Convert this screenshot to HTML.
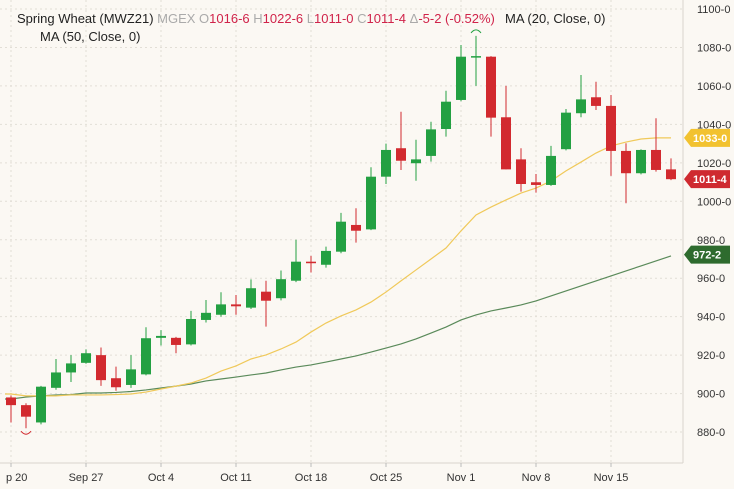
<!DOCTYPE html>
<html><head><meta charset="utf-8"><style>
body{margin:0;background:#fbf8f3;}
svg{display:block;font-family:"Liberation Sans",sans-serif;}
</style></head><body>
<svg id="chart" width="734" height="489" viewBox="0 0 734 489" xmlns="http://www.w3.org/2000/svg">
<rect x="0" y="0" width="734" height="489" fill="#fbf8f3"/>
<g id="grid"></g>
<g id="ma50"></g>
<g id="ma20"></g>
<g id="candles"></g>
<line x1="683" y1="0" x2="683" y2="463" stroke="#d8d4cc"/>
<line x1="0" y1="463" x2="683" y2="463" stroke="#d8d4cc"/>
<g id="yticks"></g>
<g id="xticks"></g>
<g id="tags"></g>
<text x="17" y="23" font-size="13"><tspan fill="#222">Spring Wheat (MWZ21)</tspan><tspan fill="#aaa"> MGEX  O</tspan><tspan fill="#d0234a">1016-6</tspan><tspan fill="#aaa"> H</tspan><tspan fill="#d0234a">1022-6</tspan><tspan fill="#aaa"> L</tspan><tspan fill="#d0234a">1011-0</tspan><tspan fill="#aaa"> C</tspan><tspan fill="#d0234a">1011-4</tspan><tspan fill="#aaa"> Δ</tspan><tspan fill="#d0234a">-5-2 (-0.52%)</tspan></text>
<text x="505" y="23" font-size="13" fill="#222">MA (20, Close, 0)</text>
<text x="40" y="41" font-size="13" fill="#222">MA (50, Close, 0)</text>
</svg>
<script>
const opens=[898,894,885,903,911,916,920,908,904.5,910,929,929,925.6,938.3,941,946.4,944.7,953,949.6,958.7,968.6,967,973.8,987.7,985.4,1012.8,1027.6,1019.8,1023.6,1037.6,1052.7,1075,1075.2,1043.7,1021.8,1009.9,1008.5,1027.1,1045.8,1054.1,1049.6,1026.2,1014.6,1026.7,1016.6];
const highs=[899,895,904,918,920,923,924,914,920,934.5,933,929.5,943,948.7,952.7,951.3,959.4,958.7,964,980,971.6,976.4,994,996.4,1017.7,1030,1046.6,1032,1041.4,1057.5,1081.3,1086,1075.5,1060,1027.6,1014.2,1028.8,1048,1065.7,1062.2,1055.3,1030.2,1027,1043.2,1022.3];
const lows=[885,882,884,902,906,915.5,904,901.5,903,909.5,925,921,925,937,940,941,944,934.8,948.5,958,963,965.5,973,978.5,985,1009,1016.3,1010.7,1020.6,1033.6,1052,1060,1033.6,1016.6,1005,1004.5,1008,1026.5,1043.7,1047.5,1013.2,999,1014,1015.4,1011];
const closes=[894,888,903.6,911,915.7,921,907,903.3,912.6,928.8,930,925.3,938.8,942,946.4,945.4,954.8,948.3,959.5,968.6,967.8,974.2,989.4,984.7,1012.8,1026.7,1021.1,1021.8,1037.4,1051.8,1075.2,1075.5,1043.5,1016.6,1009,1008.5,1023.6,1046.1,1053,1049.6,1026.2,1014.6,1026.7,1016.3,1011.5];
const ma20=[899.8,898.8,898.8,898.8,899.3,899.3,899.3,899.5,899.8,900.8,902.4,903.9,905.5,908.1,911.7,914.4,918,920.1,923.2,926.8,932,936.7,940.4,943.5,947.6,952.8,958.6,964.3,970,975.7,984.6,992.9,997,1000.7,1004.3,1006.9,1010.6,1015.8,1020.4,1025.1,1028.8,1030.8,1032.4,1033,1033];
const ma50=[897.2,898.2,898.8,899.3,899.5,900.3,900.3,900.6,901.1,901.9,902.9,903.9,905,906.6,907.6,908.6,909.7,910.7,912.3,913.8,914.9,916.4,918,919.6,921.6,923.7,925.8,928.4,931.5,934.6,938.3,940.9,943,944.5,946.1,948.2,950.8,953.4,956,958.6,961.2,963.8,966.4,969,971.6];
const yTickVals=[880,900,920,940,960,980,1000,1020,1040,1060,1080,1100];
const yTickLabels=["880-0","900-0","920-0","940-0","960-0","980-0","1000-0","1020-0","1040-0","1060-0","1080-0","1100-0"];
const xTickIdx=[0,5,10,15,20,25,30,35,40];
const xTickLabels=["p 20","Sep 27","Oct 4","Oct 11","Oct 18","Oct 25","Nov 1","Nov 8","Nov 15"];
const tagVals=[1033,1011.5,972.25];
const tagLabels=["1033-0","1011-4","972-2"];
const tagColors=["#f2c230","#cf2a30","#2e6b2e"];

const NS="http://www.w3.org/2000/svg";
const Y=v=>9+(1100-v)*1.923;
const X=i=>11+15*i;
function mk(tag,attrs,parent){const e=document.createElementNS(NS,tag);for(const k in attrs)e.setAttribute(k,attrs[k]);document.getElementById(parent).appendChild(e);return e;}
yTickVals.forEach((v,i)=>{
  const l=mk('line',{x1:0,x2:683,y1:Y(v),y2:Y(v),stroke:'#e2ded6','stroke-dasharray':'2,3'},'grid');
  
  
  const t=mk('text',{x:697,y:Y(v)+4,'font-size':11,fill:'#333'},'yticks');
  t.textContent=yTickLabels[i];
  
  
});
xTickIdx.forEach((idx,i)=>{
  const l=mk('line',{x1:X(idx),x2:X(idx),y1:0,y2:463,stroke:'#e2ded6','stroke-dasharray':'2,3'},'grid');
  
  
  const tk=mk('line',{x1:X(idx),x2:X(idx),y1:463,y2:467,stroke:'#bbb'},'xticks');
  
  
  const t=mk('text',{x:X(idx),y:481,'font-size':11,fill:'#333','text-anchor':i===0?'start':'middle'},'xticks');
  if(i===0)t.setAttribute('x',6);
  t.textContent=xTickLabels[i];
  
  
});
function line(arr,color,parent){
  const d=arr.map((v,i)=>(i?'L':'M')+X(i)+','+Y(v)).join(' ');
  const p=mk('path',{d:'M5,'+Y(arr[0])+' '+d.replace('M','L'),fill:'none',stroke:color,'stroke-width':1.2},parent);
  
  
}
line(ma50,'#5a8a5a','ma50');
line(ma20,'#f0c95a','ma20');
opens.forEach((o,i)=>{
  const c=closes[i];const up=c>=o;const col=up?'#23a042':'#d22a2f';
  const w=mk('line',{x1:X(i),x2:X(i),y1:Y(highs[i]),y2:Y(lows[i]),stroke:col,'stroke-width':1},'candles');
  
  
  const top=Y(Math.max(o,c)),h=Math.max(1.5,Math.abs(Y(o)-Y(c)));
  const r=mk('rect',{x:X(i)-5,y:top,width:10,height:h,fill:col},'candles');
  
  
});
// high/low markers
const lowI=lows.indexOf(Math.min(...lows)), highI=highs.indexOf(Math.max(...highs));
const lm=mk('path',{d:`M${X(lowI)-5},${Y(lows[lowI])+3} q5,6 10,0`,fill:'none',stroke:'#d22a2f','stroke-width':1},'candles');


const hm=mk('path',{d:`M${X(highI)-5},${Y(highs[highI])-3} q5,-6 10,0`,fill:'none',stroke:'#23a042','stroke-width':1},'candles');


tagVals.forEach((v,i)=>{
  const y=Y(v);
  const p=mk('path',{d:`M684,${y} L691,${y-9} L730,${y-9} L730,${y+9} L691,${y+9} Z`,fill:tagColors[i]},'tags');
  
  
  const t=mk('text',{x:693,y:y+4,'font-size':11,'font-weight':'bold',fill:'#fff'},'tags');
  t.textContent=tagLabels[i];
  
  
});
</script>
</body></html>
